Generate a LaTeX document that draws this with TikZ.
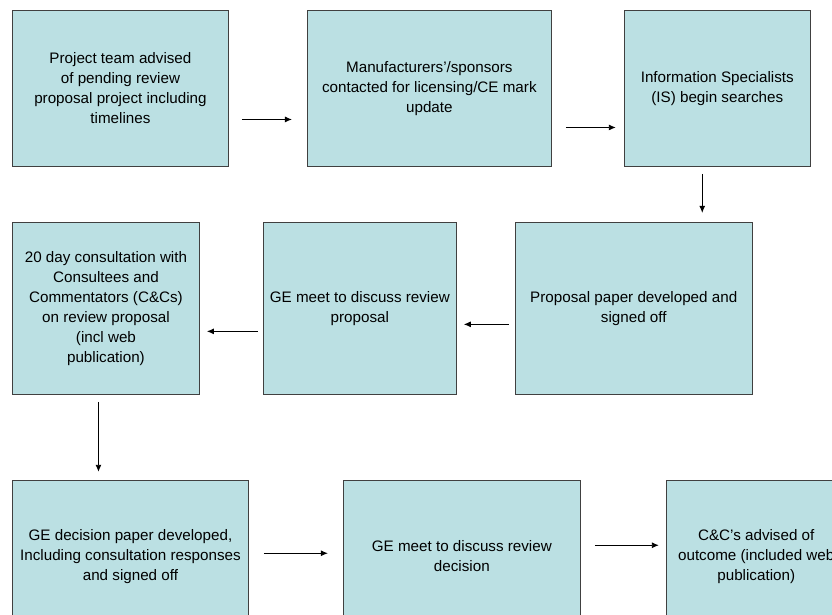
\documentclass[tikz,border=0pt]{standalone}
\usepackage{fontspec}
\setmainfont{Liberation Sans}
\usetikzlibrary{positioning,arrows.meta}
\definecolor{stagefill}{HTML}{BBE0E3}
\definecolor{stageline}{HTML}{404040}
\tikzset{
  stage/.style={draw=stageline, line width=0.9pt, fill=stagefill, inner sep=0pt,
    align=center, font=\fontsize{15.2}{20}\selectfont},
  flow/.style={-{Latex[length=7pt,width=6pt]}, line width=0.9pt}
}
\begin{document}
\begin{tikzpicture}[x=1pt, y=1pt]
\useasboundingbox (0,0) rectangle (832,-614);
\clip (0,0) rectangle (832,-614);
% top row
\node (team) [stage, minimum width=216pt, minimum height=156pt, anchor=north west] at (12,-10)
  {Project team advised\\of pending review\\proposal project including\\timelines};
\node (sponsors) [stage, minimum width=244pt, minimum height=156pt, right=78pt of team]
  {Manufacturers’/sponsors\\contacted for licensing/CE mark\\update};
\node (search) [stage, minimum width=186pt, minimum height=156pt, right=72pt of sponsors]
  {Information Specialists\\(IS) begin searches};
% middle row
\node (consult) [stage, minimum width=187pt, minimum height=172pt,
  below=55pt of team.south west, anchor=north west]
  {20 day consultation with\\Consultees and\\Commentators (C\&Cs)\\on review proposal\\(incl web\\publication)};
\node (meet) [stage, minimum width=193pt, minimum height=172pt, right=63pt of consult]
  {GE meet to discuss review\\proposal};
\node (paper) [stage, minimum width=237pt, minimum height=172pt, right=58pt of meet]
  {Proposal paper developed and\\signed off};
% bottom row
\node (decision) [stage, minimum width=236pt, minimum height=152pt,
  below=85pt of consult.south west, anchor=north west]
  {GE decision paper developed,\\Including consultation responses\\and signed off};
\node (meetdec) [stage, minimum width=237pt, minimum height=152pt, right=94pt of decision]
  {GE meet to discuss review\\decision};
\node (advise) [stage, minimum width=180pt, minimum height=152pt, right=85pt of meetdec]
  {C\&C’s advised of\\outcome (included web\\publication)};
% arrows
\draw[flow] ([shift={(13,-31)}]team.east) -- ([shift={(-15,-31)}]sponsors.west);
\draw[flow] ([shift={(14,-39)}]sponsors.east) -- ([shift={(-8,-39)}]search.west);
\draw[flow] ([shift={(-15,-7)}]search.south) -- ([shift={(68.5,9)}]paper.north);
\draw[flow] ([shift={(-6,-16)}]paper.west) -- ([shift={(7,-16)}]meet.east);
\draw[flow] ([shift={(-5,-23)}]meet.west) -- ([shift={(7,-23)}]consult.east);
\draw[flow] ([shift={(-7.5,-7)}]consult.south) -- ([shift={(-32,8)}]decision.north);
\draw[flow] ([shift={(15,3)}]decision.east) -- ([shift={(-15,3)}]meetdec.west);
\draw[flow] ([shift={(14,11)}]meetdec.east) -- ([shift={(-7,11)}]advise.west);
\end{tikzpicture}
\end{document}
